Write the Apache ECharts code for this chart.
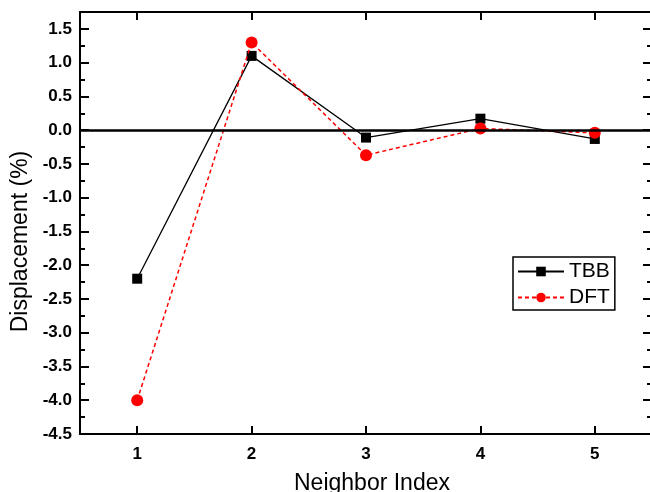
<!DOCTYPE html>
<html>
<head>
<meta charset="utf-8">
<script src="https://cdn.jsdelivr.net/npm/echarts@6/dist/echarts.min.js"></script>
<style>
html,body{margin:0;padding:0;background:#fff;}
#chart{width:650px;height:492px;}
</style>
</head>
<body>
<div id="chart"></div>
<script>
const categories = ['1', '2', '3', '4', '5'];
const tbbValues = [-2.2, 1.1, -0.11, 0.17, -0.13];
const dftValues = [-4.0, 1.3, -0.37, 0.025, -0.04];
const seriesNames = ['TBB', 'DFT'];
const xAxisTitle = 'Neighbor Index';
const yAxisTitle = 'Displacement (%)';

const chart = echarts.init(document.getElementById('chart'), null, {renderer: 'canvas'});
const font = 'Liberation Sans, Arial, sans-serif';
const axisLineStyle = {color: '#000', width: 2};

const option = {
  animation: false,
  backgroundColor: '#fff',
  grid: {left: 80, top: 12, width: 572, height: 422, containLabel: false, outerBoundsMode: 'none'},
  legend: {
    left: 513, top: 257, orient: 'vertical',
    data: seriesNames,
    itemWidth: 46, itemHeight: 12, itemGap: 5,
    padding: [4, 5, 2, 4],
    borderColor: '#000', borderWidth: 1.5,
    textStyle: {fontFamily: font, fontSize: 21, color: '#000'}
  },
  xAxis: [{
    type: 'category', data: categories, position: 'bottom',
    boundaryGap: true,
    name: xAxisTitle, nameLocation: 'middle', nameGap: 38,
    nameTextStyle: {fontFamily: font, fontSize: 23, color: '#000', padding: [0, 0, 0, 12]},
    axisLine: {show: true, onZero: false, lineStyle: axisLineStyle},
    axisTick: {show: true, inside: true, alignWithLabel: true, length: 8, lineStyle: {color: '#000', width: 2}},
    axisLabel: {fontFamily: font, fontSize: 17, fontWeight: 'bold', color: '#000', margin: 12},
    splitLine: {show: false}
  }, {
    type: 'category', data: categories, position: 'top',
    boundaryGap: true,
    axisLine: {show: true, onZero: false, lineStyle: axisLineStyle},
    axisTick: {show: true, inside: true, alignWithLabel: true, length: 8, lineStyle: {color: '#000', width: 2}},
    axisLabel: {show: false},
    splitLine: {show: false}
  }],
  yAxis: [{
    type: 'value', min: -4.5, max: 1.75, interval: 0.5, position: 'left',
    name: yAxisTitle, nameLocation: 'middle', nameGap: 46,
    nameTextStyle: {fontFamily: font, fontSize: 23, color: '#000', padding: [0, 37, 0, 0]},
    axisLine: {show: true, onZero: false, lineStyle: axisLineStyle},
    axisTick: {show: true, inside: true, length: 9, lineStyle: {color: '#000', width: 2}},
    minorTick: {show: true, splitNumber: 2, length: 5, lineStyle: {color: '#000', width: 2}},
    axisLabel: {
      fontFamily: font, fontSize: 17, fontWeight: 'bold', color: '#000', margin: 8,
      showMaxLabel: false,
      formatter: v => v.toFixed(1)
    },
    splitLine: {show: false}
  }, {
    type: 'value', min: -4.5, max: 1.75, interval: 0.5, position: 'right',
    axisLine: {show: true, onZero: false, lineStyle: axisLineStyle},
    axisTick: {show: true, inside: true, length: 9, lineStyle: {color: '#000', width: 2}},
    minorTick: {show: true, splitNumber: 2, length: 5, lineStyle: {color: '#000', width: 2}},
    axisLabel: {show: false},
    splitLine: {show: false}
  }],
  series: [{
    name: seriesNames[0], type: 'line', data: tbbValues,
    xAxisIndex: 0, yAxisIndex: 0,
    symbol: 'rect', symbolSize: 10,
    itemStyle: {color: '#000'},
    lineStyle: {color: '#000', width: 1.3},
    z: 3,
    markLine: {
      silent: true, symbol: 'none', label: {show: false},
      lineStyle: {color: '#000', width: 2.5, type: 'solid'},
      data: [{yAxis: 0}]
    }
  }, {
    name: seriesNames[1], type: 'line', data: dftValues,
    xAxisIndex: 0, yAxisIndex: 0,
    symbol: 'circle', symbolSize: 12,
    itemStyle: {color: '#ff0000'},
    lineStyle: {color: '#ff0000', width: 1.5, type: [4, 3]},
    z: 4
  }]
};
chart.setOption(option);
</script>
</body>
</html>
